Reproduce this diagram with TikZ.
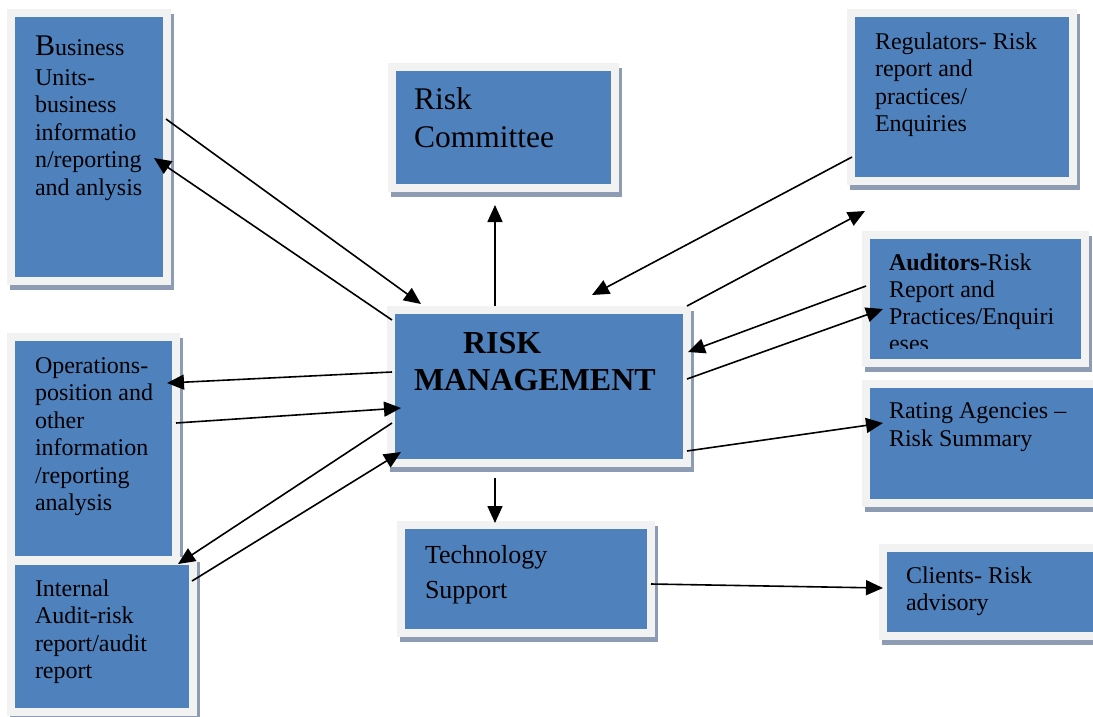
\documentclass[tikz,border=0pt]{standalone}
\usepackage{fontspec}
\setmainfont{Liberation Serif}
\usetikzlibrary{arrows.meta,shadows,fit}
\definecolor{bluebox}{HTML}{4F81BD}
\definecolor{grayrim}{HTML}{F2F2F2}
\definecolor{shadowc}{HTML}{8E9CB3}
\newcommand\firstln{\rule{0pt}{0.75em}}
\tikzset{
  box/.style={rectangle, fill=grayrim, inner sep=0pt, outer sep=0pt,
    general shadow={shadow xshift=3pt, shadow yshift=-5pt, fill=shadowc},
    path picture={\fill[bluebox] ([shift={(8pt,-8pt)}]path picture bounding box.north west)
      rectangle ([shift={(-8pt,8pt)}]path picture bounding box.south east);}},
  txt/.style={anchor=north west, inner sep=0pt, outer sep=0pt, align=left,
    text=black, font=\fontsize{24}{27.5}\selectfont},
  arr/.style={-{Triangle[length=17pt,width=15pt]}, line width=1.6pt, black}
}
\begin{document}
\begin{tikzpicture}[x=1pt,y=-1pt]
\clip (0,0) rectangle (1093,716);
\fill[white] (0,0) rectangle (1093,716);
% boxes
\node[box, fit={(7,9)(171,285)}] (bu) {};
\node[box, fit={(388,63)(619,192)}] (rc) {};
\node[box, fit={(387,306)(691,467)}] (rm) {};
\node[box, fit={(847,9)(1077,185)}] (reg) {};
\node[box, fit={(862,231)(1089,367)}] (aud) {};
\node[box, fit={(862,380)(1110,507)}] (rat) {};
\node[box, fit={(7,333)(180,564)}] (ops) {};
\node[box, fit={(7,557)(197,716)}] (ia) {};
\node[box, fit={(397,521)(655,637)}] (tech) {};
\node[box, fit={(879,544)(1110,640)}] (cli) {};
% texts
\node[txt] (bu-t) at (35,35) {{\fontsize{30}{30}\selectfont\rule{0pt}{20pt}B}usiness\\[2.5pt]Units-\\business\\informatio\\n/reporting\\and anlysis};
\node[txt, font=\fontsize{31.5}{38}\selectfont] (rc-t) at (414,85.4) {\firstln Risk\\Committee};
\node[txt, font=\fontsize{32}{37}\selectfont\bfseries] (rm-t) at (414,329) {\firstln\hspace*{49pt}RISK\\MANAGEMENT};
\node[txt] (reg-t) at (875,31) {\firstln Regulators- Risk\\report and\\practices/\\Enquiries};
\begin{scope}
\clip (869,238) rectangle (1082,348);
\node[txt, font=\fontsize{24}{27.3}\selectfont] (aud-t) at (889,252) {\firstln\textbf{Auditors-}Risk\\Report and\\Practices/Enquiri\\eses};
\end{scope}
\node[txt, font=\fontsize{24}{28.4}\selectfont] (rat-t) at (889,400.3) {\firstln Rating Agencies –\\Risk Summary};
\node[txt] (ops-t) at (35,355.3) {\firstln Operations-\\position and\\other\\information\\/reporting\\analysis};
\node[txt, font=\fontsize{24}{27.2}\selectfont] (ia-t) at (35,578.7) {\firstln Internal\\Audit-risk\\report/audit\\report};
\node[txt, font=\fontsize{26}{35}\selectfont] (tech-t) at (425,543.5) {\firstln Technology\\Support};
\node[txt, font=\fontsize{24}{27}\selectfont] (cli-t) at (906,565) {\firstln Clients- Risk\\advisory};
% connectors
\draw[arr] ([shift={(-5,110)}]bu.north east) -- ([shift={(34,-2)}]rm.north west);
\draw[arr] ([shift={(5,14)}]rm.north west) -- ([shift={(-17,149)}]bu.north east);
\draw[arr] ([shift={(108,0)}]rm.north west) -- ([shift={(-8.5,13)}]rc.south);
\draw[arr] ([shift={(5,-28)}]reg.south west) -- ([shift={(205,-11)}]rm.north west);
\draw[arr] ([shift={(-4,0)}]rm.north east) -- ([shift={(18,26)}]reg.south west);
\draw[arr] ([shift={(4,55)}]aud.north west) -- ([shift={(-3,46)}]rm.north east);
\draw[arr] ([shift={(-4,73)}]rm.north east) -- ([shift={(21,78)}]aud.north west);
\draw[arr] ([shift={(-4,-16)}]rm.south east) -- ([shift={(21,43)}]rat.north west);
\draw[arr] ([shift={(5,66)}]rm.north west) -- ([shift={(-13,50)}]ops.north east);
\draw[arr] ([shift={(-4,90)}]ops.north east) -- ([shift={(14,102)}]rm.north west);
\draw[arr] ([shift={(5,117)}]rm.north west) -- ([shift={(-19,7)}]ia.north east);
\draw[arr] ([shift={(-5,24)}]ia.north east) -- ([shift={(14,-15)}]rm.south west);
\draw[arr] ([shift={(108,11)}]rm.south west) -- ([shift={(-31,2)}]tech.north);
\draw[arr] ([shift={(-4,5)}]tech.east) -- ([shift={(4,-4)}]cli.west);
\end{tikzpicture}
\end{document}
